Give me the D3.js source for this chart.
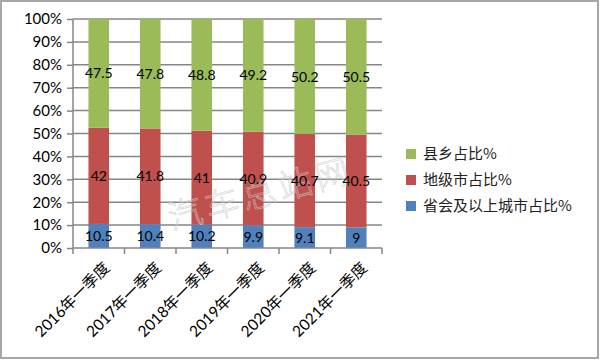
<!DOCTYPE html>
<html><head><meta charset="utf-8">
<script src="https://cdn.jsdelivr.net/npm/d3@7"></script>
<style>body{margin:0;background:#fff}svg{display:block}</style>
</head><body>
<svg id="c" width="600" height="360"></svg>
<script>
const categories = ["2016年一季度","2017年一季度","2018年一季度","2019年一季度","2020年一季度","2021年一季度"];
const seriesNames = ["省会及以上城市占比%","地级市占比%","县乡占比%"];
const provincial = [10.5,10.4,10.2,9.9,9.1,9];
const prefecture = [42,41.8,41,40.9,40.7,40.5];
const county = [47.5,47.8,48.8,49.2,50.2,50.5];
const yTicks = [0,10,20,30,40,50,60,70,80,90,100];
const colors = ["#4F81BD","#C0504D","#9BBB59"];

const svg = d3.select("#c");
svg.append("rect").attr("x",1).attr("y",1).attr("width",597).attr("height",357)
  .attr("fill","#fff").attr("stroke","#a6a6a6").attr("stroke-width",2);

const x = d3.scaleBand().domain(categories).range([73,382]).paddingInner(0.6).paddingOuter(0.3);
const y = d3.scaleLinear().domain([0,100]).range([248,19]);

const rows = categories.map((c,i)=>({cat:c, s0:provincial[i], s1:prefecture[i], s2:county[i]}));
const stack = d3.stack().keys(["s0","s1","s2"]).offset(d3.stackOffsetExpand)(rows);

// gridlines
svg.append("g").selectAll("line").data(yTicks.filter(t=>t>0)).join("line")
  .attr("x1",73).attr("x2",382).attr("y1",d=>y(d)).attr("y2",d=>y(d))
  .attr("stroke","#868686").attr("stroke-width",1.5);

// bars
stack.forEach((layer,li)=>{
  const g = svg.append("g");
  g.selectAll("rect").data(layer).join("rect")
    .attr("x",d=>x(d.data.cat)).attr("width",x.bandwidth())
    .attr("y",d=>y(d[1]*100)).attr("height",d=>y(d[0]*100)-y(d[1]*100))
    .attr("fill",colors[li]);
});

// watermark
svg.append("text").attr("transform","translate(172,230) rotate(-15)")
  .attr("font-family","Noto Sans CJK SC").attr("font-size",34).attr("font-weight",300)
  .attr("fill","none").attr("stroke","#c8c8c8").attr("stroke-opacity",0.7).attr("stroke-width",0.8)
  .attr("letter-spacing",4).text("汽车总站网");

// value labels
stack.forEach((layer)=>{
  svg.append("g").selectAll("text").data(layer).join("text")
    .attr("x",d=>x(d.data.cat)+x.bandwidth()/2)
    .attr("y",d=>y((d[0]+d[1])/2*100))
    .attr("dy","0.36em").attr("text-anchor","middle")
    .attr("font-family","Lato, sans-serif").attr("font-size",14).attr("fill","#000")
    .text(d=>d.data[layer.key]);
});

// y axis
const yAxis = d3.axisLeft(y).tickValues(yTicks).tickSize(6).tickPadding(5).tickFormat(d=>d+"%");
const ya = svg.append("g").attr("transform","translate(73,0)").call(yAxis);
ya.select(".domain").attr("stroke","#868686").attr("stroke-width",1.5).attr("d","M0,19V248");
ya.selectAll(".tick line").attr("stroke","#868686").attr("stroke-width",1.5);
ya.selectAll("text").attr("font-family","Lato, sans-serif").attr("font-size",15).attr("fill","#000");

// x axis
const xa = svg.append("g").attr("transform","translate(0,248)");
xa.append("line").attr("x1",73).attr("x2",382).attr("stroke","#868686").attr("stroke-width",1.5);
const bounds = d3.range(categories.length+1).map(i=>73+i*(382-73)/categories.length);
xa.selectAll("line.t").data(bounds).join("line").attr("class","t")
  .attr("x1",d=>d).attr("x2",d=>d).attr("y1",0).attr("y2",6)
  .attr("stroke","#868686").attr("stroke-width",1.5);
xa.selectAll("text").data(categories).join("text")
  .attr("transform",d=>`translate(${x(d)+x.bandwidth()/2+8},17) rotate(-45)`)
  .attr("text-anchor","end").attr("dy","0.35em")
  .attr("font-family","Lato, 'Noto Sans CJK SC', sans-serif").attr("font-size",15.5).attr("fill","#000")
  .text(d=>d);

// legend
const leg = svg.append("g");
const legItems = [2,1,0];
legItems.forEach((si,i)=>{
  const yy = 154 + i*26;
  leg.append("rect").attr("x",406).attr("y",yy-5).attr("width",10).attr("height",10).attr("fill",colors[si]);
  leg.append("text").attr("x",423).attr("y",yy).attr("dy","0.36em")
    .attr("font-family","'Noto Sans CJK SC', sans-serif").attr("font-size",15).attr("fill","#222")
    .text(seriesNames[si]);
});
</script>
</body></html>
